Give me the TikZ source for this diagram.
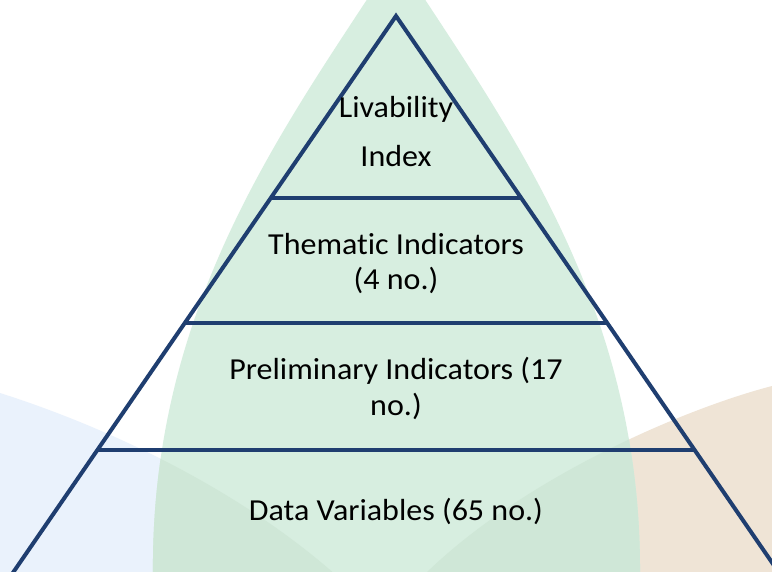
\documentclass[tikz,border=0pt]{standalone}
\usepackage{fontspec}
\setmainfont{Carlito}[Ligatures=NoCommon]
\definecolor{leafgreen}{RGB}{215,238,224}
\definecolor{leafdark}{RGB}{207,231,215}
\definecolor{bgblue}{RGB}{234,242,252}
\definecolor{bgbrown}{RGB}{239,228,214}
\definecolor{pyrline}{RGB}{31,62,112}
\newcommand{\widetxt}[1]{\scalebox{1.05}[1]{#1}}
\tikzset{
  pyrstroke/.style={draw=pyrline, line width=4pt, line join=miter},
  tierlabel/.style={anchor=base, inner sep=0pt, font=\fontsize{30.5}{36}\selectfont, text=black}
}
\begin{document}
\begin{tikzpicture}[x=1pt,y=-1pt]
\useasboundingbox (0,0) rectangle (772,571);
\clip (0,0) rectangle (772,571);
\fill[white] (0,0) rectangle (772,571);
% background shapes
\fill[bgblue] (0,393) .. controls (110,428) and (240,490) .. (337,576) -- (0,576) -- cycle;
\fill[bgbrown] (772,386) .. controls (680,410) and (520,480) .. (423,576) -- (772,576) -- cycle;
\path[fill=leafgreen] (396,-45) .. controls (290,120) and (150,300) .. (153,576)
  -- (640,576) .. controls (642,300) and (502,120) .. (396,-45) -- cycle;
\begin{scope}
  \clip (396,-45) .. controls (290,120) and (150,300) .. (153,576)
    -- (640,576) .. controls (642,300) and (502,120) .. (396,-45) -- cycle;
  \fill[leafdark] (0,393) .. controls (110,428) and (240,490) .. (337,576) -- (0,576) -- cycle;
  \fill[leafdark] (772,386) .. controls (680,410) and (520,480) .. (423,576) -- (772,576) -- cycle;
\end{scope}
% pyramid
\coordinate (apex) at (396,16);
\coordinate (bl) at (10.7,576);
\coordinate (br) at (781.3,576);
\coordinate (l1) at (270.8,198); \coordinate (r1) at (521.2,198);
\coordinate (l2) at (185.0,323); \coordinate (r2) at (607.0,323);
\coordinate (l3) at (97.4,450);  \coordinate (r3) at (694.6,450);
\draw[pyrstroke] (bl) -- (apex) -- (br);
\draw[pyrstroke] (l1) -- (r1);
\draw[pyrstroke] (l2) -- (r2);
\draw[pyrstroke] (l3) -- (r3);
% labels
\node[tierlabel] (liv1) at (396,117) {\widetxt{Livability}};
\node[tierlabel] (liv2) at (396,166) {\widetxt{Index}};
\node[tierlabel] (them1) at (396,254) {\widetxt{Thematic Indicators}};
\node[tierlabel] (them2) at (396,289) {\widetxt{(4 no.)}};
\node[tierlabel] (prel1) at (396,379) {\widetxt{Preliminary Indicators (17}};
\node[tierlabel] (prel2) at (396,415) {\widetxt{no.)}};
\node[tierlabel] (data) at (396,520) {\widetxt{Data Variables (65 no.)}};
\end{tikzpicture}
\end{document}
